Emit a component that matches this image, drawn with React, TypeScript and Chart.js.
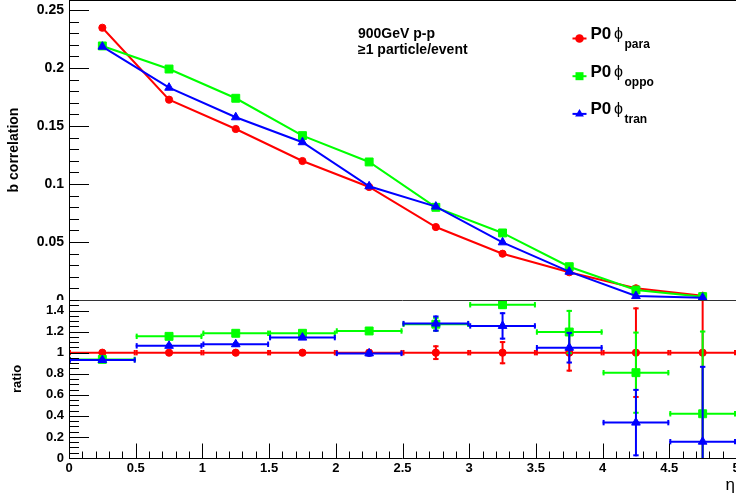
import React, { useEffect, useRef } from 'react';
import { Chart, registerables } from 'chart.js';

Chart.register(...registerables);

const FONT = '"Liberation Sans", Arial, Helvetica, sans-serif';

// ---------- data ----------
const etaCenters = [0.25, 0.75, 1.25, 1.75, 2.25, 2.75, 3.25, 3.75, 4.25, 4.75];
const etaHalfWidth = 0.25;

const bPara = [0.2347, 0.1727, 0.1474, 0.1198, 0.0974, 0.0629, 0.0399, 0.0239, 0.0101, 0.0037];
const bOppo = [0.219, 0.1991, 0.1739, 0.1417, 0.119, 0.0799, 0.0578, 0.0287, 0.0086, 0.0029];
const bTran = [0.2184, 0.183, 0.1575, 0.136, 0.098, 0.0805, 0.0497, 0.0244, 0.0034, 0.002];

const ratioPara = [1, 1, 1, 1, 1, 1, 1, 1, 1, 1];
const ratioParaErr = [0.02, 0.02, 0.02, 0.02, 0.03, 0.07, 0.11, 0.18, 0.43, 1.2];
const ratioOppo = [0.936, 1.155, 1.184, 1.184, 1.206, 1.27, 1.455, 1.196, 0.81, 0.42];
const ratioOppoErr = [0.02, 0.02, 0.02, 0.02, 0.03, 0.07, 0.04, 0.21, 0.39, 0.79];
const ratioTran = [0.93, 1.065, 1.08, 1.143, 0.993, 1.276, 1.254, 1.047, 0.336, 0.155];
const ratioTranErr = [0.02, 0.02, 0.02, 0.02, 0.03, 0.077, 0.13, 0.15, 0.32, 0.72];

const upperYTicks = [0, 0.05, 0.1, 0.15, 0.2, 0.25];
const lowerYTicks = [0, 0.2, 0.4, 0.6, 0.8, 1, 1.2, 1.4];
const etaTicks = [0, 0.5, 1, 1.5, 2, 2.5, 3, 3.5, 4, 4.5, 5];

const seriesNames = ['para', 'oppo', 'tran'];
const seriesColors = ['#ff0000', '#00ff00', '#0000ff'];
const seriesMarkers = ['circle', 'rect', 'triangle'];
const upperValues = [bPara, bOppo, bTran];
const lowerValues = [ratioPara, ratioOppo, ratioTran];
const lowerErrors = [ratioParaErr, ratioOppoErr, ratioTranErr];

const annotationLines = ['900GeV p-p', '\u22651 particle/event'];
const legendPrefix = 'P0';
const legendSymbol = '\u03D5';

// ---------- layout / style constants ----------
const W = 736;
const UPPER_H = 300;
const LOWER_H = 203;
const AXIS_W = 69;
const LOWER_X_AXIS_H = 45;
const pointRadii: Record<string, number> = { circle: 3.6, rect: 5.6, triangle: 5 };

const fmt = (v: any) => String(parseFloat(Number(v).toFixed(4)));

function line(ctx: CanvasRenderingContext2D, x1: number, y1: number, x2: number, y2: number) {
  ctx.beginPath();
  ctx.moveTo(x1, y1);
  ctx.lineTo(x2, y2);
  ctx.stroke();
}

function drawMarker(ctx: CanvasRenderingContext2D, style: string, x: number, y: number, color: string) {
  ctx.save();
  ctx.fillStyle = color;
  ctx.beginPath();
  if (style === 'circle') ctx.arc(x, y, 4.3, 0, Math.PI * 2);
  else if (style === 'rect') ctx.rect(x - 4, y - 4, 8, 8);
  else {
    ctx.moveTo(x, y - 5);
    ctx.lineTo(x + 4.4, y + 2.6);
    ctx.lineTo(x - 4.4, y + 2.6);
    ctx.closePath();
  }
  ctx.fill();
  ctx.restore();
}

function makeDatasets(values: number[][], showLine: boolean) {
  return values.map((vals, i) => ({
    label: seriesNames[i],
    data: etaCenters.map((x, j) => ({ x, y: vals[j] })),
    borderColor: seriesColors[i],
    backgroundColor: seriesColors[i],
    pointBackgroundColor: seriesColors[i],
    pointBorderColor: seriesColors[i],
    pointBorderWidth: 1,
    pointStyle: seriesMarkers[i],
    pointRadius: pointRadii[seriesMarkers[i]],
    borderWidth: 2,
    showLine,
    tension: 0,
    fill: false,
    order: 3 - i,
  }));
}

function fixYAxis(scale: any) {
  scale.width = AXIS_W;
}

// Pin the plot area to exact pixel bounds (ROOT pad frame), then re-configure scales.
function fixAreaPlugin(top: number, bottomInset: number, xAxisH: number) {
  return {
    id: 'fixArea',
    afterLayout(chart: any) {
      const a = chart.chartArea;
      a.left = AXIS_W;
      a.top = top;
      a.right = chart.width;
      a.bottom = chart.height - bottomInset;
      a.width = a.right - a.left;
      a.height = a.bottom - a.top;
      const y = chart.scales.y;
      y.left = 0;
      y.right = AXIS_W;
      y.width = AXIS_W;
      y.top = a.top;
      y.bottom = a.bottom;
      y.height = a.height;
      y.configure();
      const x = chart.scales.x;
      x.left = a.left;
      x.right = a.right;
      x.width = a.width;
      x.top = a.bottom;
      x.bottom = a.bottom + xAxisH;
      x.height = xAxisH;
      x.configure();
    },
  };
}

function yAxisFrame(ctx: CanvasRenderingContext2D, chart: any, majors: number[], minorStep: number) {
  const a = chart.chartArea;
  const y = chart.scales.y;
  ctx.strokeStyle = '#000';
  ctx.lineWidth = 1;
  const lx = a.left + 0.5;
  line(ctx, lx, a.top, lx, a.bottom);
  const n = Math.round(y.max / minorStep);
  for (let k = 0; k <= n; k++) {
    const v = k * minorStep;
    const isMajor = majors.some((m) => Math.abs(m - v) < minorStep / 10);
    const py = Math.round(y.getPixelForValue(v)) + 0.5;
    if (py < a.top || py > a.bottom + 1) continue;
    line(ctx, a.left, py, a.left + (isMajor ? 20 : 10), py);
  }
}

const upperFramePlugin = {
  id: 'upperFrame',
  afterDraw(chart: any) {
    const ctx: CanvasRenderingContext2D = chart.ctx;
    const a = chart.chartArea;
    ctx.save();
    ctx.strokeStyle = '#000';
    ctx.lineWidth = 2;
    line(ctx, a.left, 0, a.right, 0);
    yAxisFrame(ctx, chart, upperYTicks, 0.01);

    // annotation text
    ctx.fillStyle = '#000';
    ctx.textBaseline = 'alphabetic';
    ctx.textAlign = 'left';
    ctx.font = `bold 14px ${FONT}`;
    annotationLines.forEach((t, i) => ctx.fillText(t, 358, 38 + i * 15.7));

    // legend
    seriesNames.forEach((name, i) => {
      const by = 39 + i * 37.7;
      const color = seriesColors[i];
      ctx.strokeStyle = color;
      ctx.lineWidth = 2;
      line(ctx, 572.5, by - 0.5, 586.5, by - 0.5);
      drawMarker(ctx, seriesMarkers[i], 579.5, by - 0.5, color);
      ctx.fillStyle = '#000';
      ctx.font = `bold 17px ${FONT}`;
      ctx.fillText(legendPrefix, 590.5, by);
      ctx.font = `16px ${FONT}`;
      ctx.fillText(legendSymbol, 614, by);
      ctx.font = `bold 12px ${FONT}`;
      ctx.fillText(name, 624.5, by + 9);
    });
    ctx.restore();
  },
};

const lowerFramePlugin = {
  id: 'lowerFrame',
  beforeDatasetDraw(chart: any, args: any) {
    const i = args.index;
    const ctx: CanvasRenderingContext2D = chart.ctx;
    const a = chart.chartArea;
    const xs = chart.scales.x;
    const ys = chart.scales.y;
    const vals = lowerValues[i];
    const errs = lowerErrors[i];
    ctx.save();
    ctx.beginPath();
    ctx.rect(a.left, a.top, a.right - a.left, a.bottom - a.top);
    ctx.clip();
    ctx.strokeStyle = seriesColors[i];
    ctx.lineWidth = 2;
    etaCenters.forEach((x, j) => {
      const px = xs.getPixelForValue(x);
      const py = ys.getPixelForValue(vals[j]);
      const pl = xs.getPixelForValue(x - etaHalfWidth);
      const pr = xs.getPixelForValue(x + etaHalfWidth);
      const pt = ys.getPixelForValue(vals[j] + errs[j]);
      const pb = ys.getPixelForValue(vals[j] - errs[j]);
      line(ctx, pl, py, pr, py);
      line(ctx, pl + 1, py - 2.7, pl + 1, py + 2.7);
      line(ctx, pr - 1, py - 2.7, pr - 1, py + 2.7);
      line(ctx, px, pt, px, pb);
      line(ctx, px - 2.7, pt + 1, px + 2.7, pt + 1);
      line(ctx, px - 2.7, pb - 1, px + 2.7, pb - 1);
    });
    ctx.restore();
  },
  afterDraw(chart: any) {
    const ctx: CanvasRenderingContext2D = chart.ctx;
    const a = chart.chartArea;
    const xs = chart.scales.x;
    ctx.save();
    ctx.strokeStyle = '#333';
    ctx.lineWidth = 1;
    line(ctx, a.left, 0.5, a.right, 0.5);
    yAxisFrame(ctx, chart, lowerYTicks, 0.05);
    ctx.strokeStyle = '#000';
    const by = Math.round(a.bottom) + 0.5;
    line(ctx, a.left, by, a.right, by);
    for (let k = 0; k <= 50; k++) {
      const v = k * 0.1;
      const isMajor = etaTicks.some((m) => Math.abs(m - v) < 0.01);
      const px = Math.round(xs.getPixelForValue(v)) + 0.5;
      line(ctx, px, by, px, by - (isMajor ? 15 : 7));
    }
    ctx.fillStyle = '#000';
    ctx.textAlign = 'right';
    ctx.textBaseline = 'alphabetic';
    ctx.font = `17px ${FONT}`;
    ctx.fillText('\u03B7', 735, 190);
    ctx.restore();
  },
};

function UpperChart() {
  const ref = useRef<HTMLCanvasElement>(null);
  useEffect(() => {
    if (!ref.current) return;
    const chart = new Chart(ref.current, {
      type: 'line',
      data: { datasets: makeDatasets(upperValues, true) as any },
      options: {
        animation: false,
        responsive: false,
        maintainAspectRatio: false,
        events: [],
        layout: { padding: 0 },
        plugins: { legend: { display: false }, tooltip: { enabled: false } },
        scales: {
          x: { type: 'linear', min: 0, max: 5, display: false },
          y: {
            type: 'linear',
            min: 0,
            max: 0.2586,
            afterBuildTicks: (s: any) => {
              s.ticks = upperYTicks.map((v) => ({ value: v }));
            },
            afterFit: fixYAxis,
            grid: { display: false, drawTicks: false },
            border: { display: false },
            ticks: { color: '#000', padding: 5, callback: fmt, font: { family: FONT, size: 14, weight: 'bold' } },
            title: {
              display: true,
              text: 'b correlation',
              color: '#000',
              font: { family: FONT, size: 14, weight: 'bold' },
              padding: { top: 6, bottom: 0 },
            },
          },
        },
      } as any,
      plugins: [fixAreaPlugin(0, 0, 0), upperFramePlugin],
    });
    return () => chart.destroy();
  }, []);
  return <canvas ref={ref} width={W} height={UPPER_H} style={{ position: 'absolute', left: 0, top: 0, display: 'block' }} />;
}

function LowerChart() {
  const ref = useRef<HTMLCanvasElement>(null);
  useEffect(() => {
    if (!ref.current) return;
    const chart = new Chart(ref.current, {
      type: 'line',
      data: { datasets: makeDatasets(lowerValues, false) as any },
      options: {
        animation: false,
        responsive: false,
        maintainAspectRatio: false,
        events: [],
        layout: { padding: 0 },
        plugins: { legend: { display: false }, tooltip: { enabled: false } },
        scales: {
          x: {
            type: 'linear',
            min: 0,
            max: 5,
            afterBuildTicks: (s: any) => {
              s.ticks = etaTicks.map((v) => ({ value: v }));
            },
            afterFit: (s: any) => {
              s.height = LOWER_X_AXIS_H;
            },
            grid: { display: false, drawTicks: false },
            border: { display: false },
            ticks: { color: '#000', padding: 3, maxRotation: 0, autoSkip: false, callback: fmt, font: { family: FONT, size: 13, weight: 'bold' } },
          },
          y: {
            type: 'linear',
            min: 0,
            max: 1.5,
            afterBuildTicks: (s: any) => {
              s.ticks = lowerYTicks.map((v) => ({ value: v }));
            },
            afterFit: fixYAxis,
            grid: { display: false, drawTicks: false },
            border: { display: false },
            ticks: { color: '#000', padding: 5, callback: fmt, font: { family: FONT, size: 13, weight: 'bold' } },
            title: {
              display: true,
              text: 'ratio',
              color: '#000',
              font: { family: FONT, size: 13, weight: 'bold' },
              padding: { top: 10, bottom: 0 },
            },
          },
        },
      } as any,
      plugins: [fixAreaPlugin(0, LOWER_X_AXIS_H, LOWER_X_AXIS_H), lowerFramePlugin],
    });
    return () => chart.destroy();
  }, []);
  return <canvas ref={ref} width={W} height={LOWER_H} style={{ position: 'absolute', left: 0, top: UPPER_H, display: 'block' }} />;
}

export default function App() {
  return (
    <div style={{ position: 'absolute', left: 0, top: 0, width: W, height: UPPER_H + LOWER_H, background: '#fff', overflow: 'hidden' }}>
      <UpperChart />
      <LowerChart />
    </div>
  );
}
